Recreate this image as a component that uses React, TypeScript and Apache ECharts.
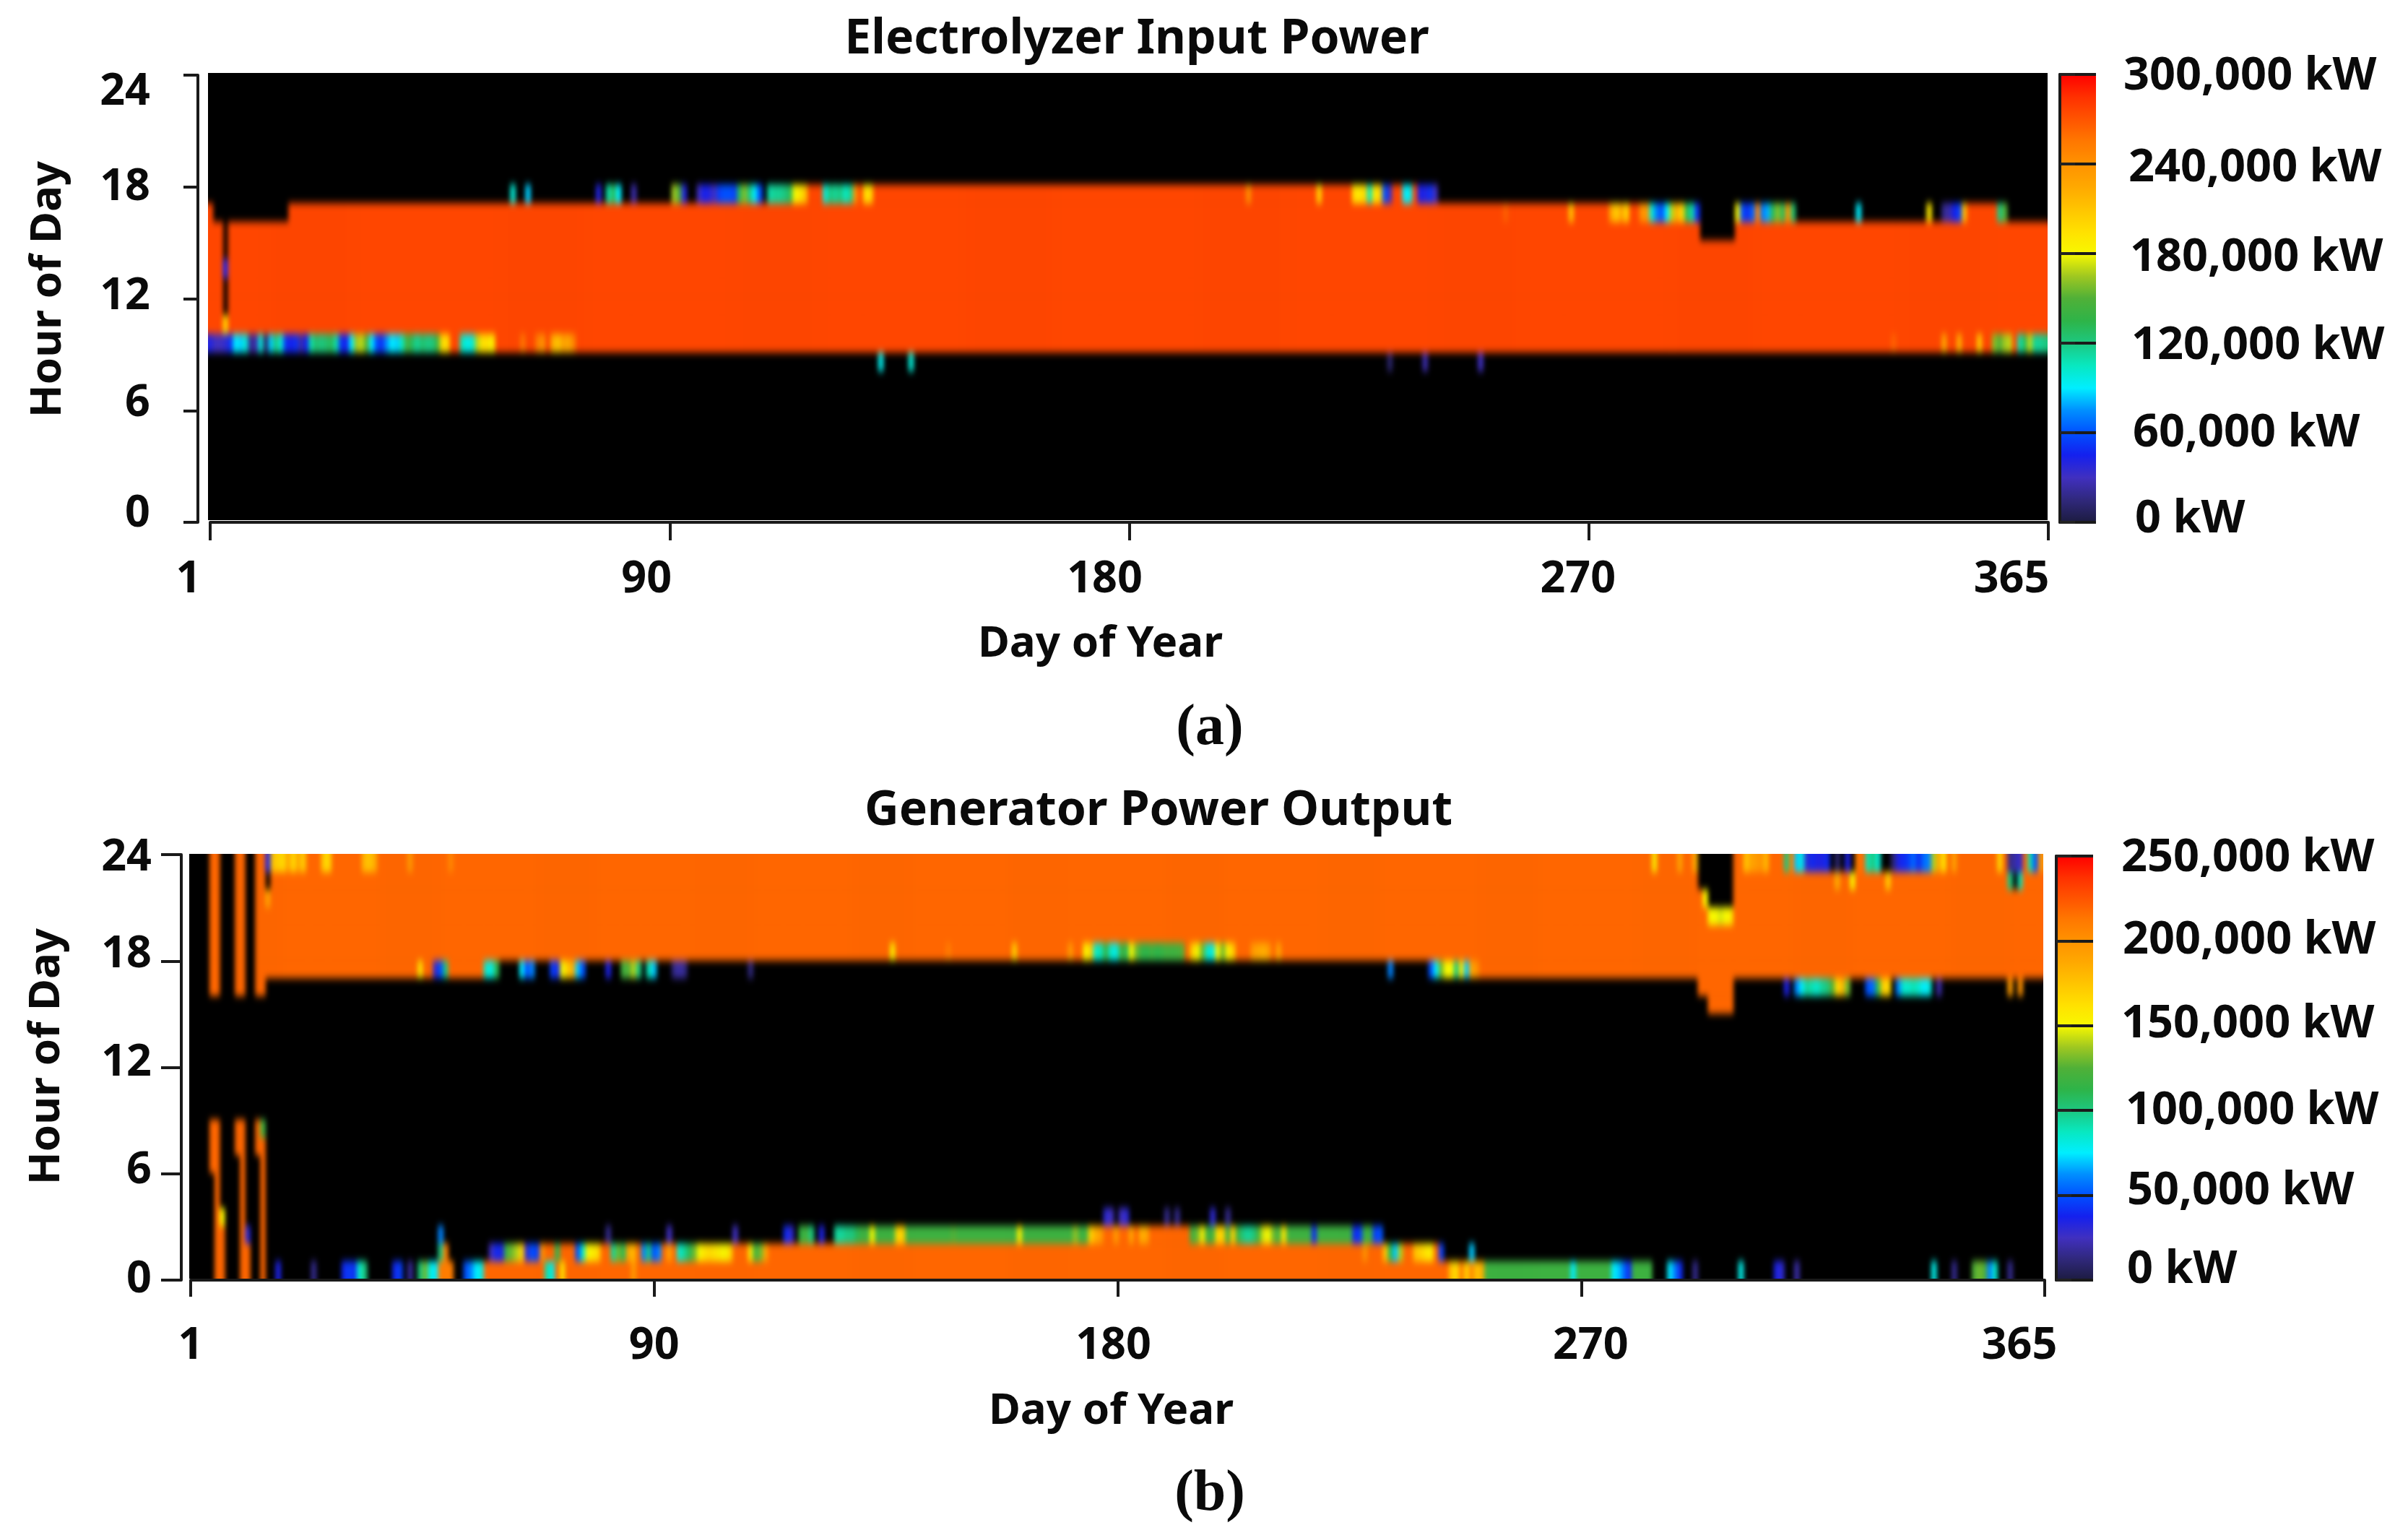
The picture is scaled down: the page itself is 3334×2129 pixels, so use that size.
import React, { useEffect, useRef } from "react";
import * as echarts from "echarts";

type Block = [number, number, number, number, number];
type Speck = [number, number];

const DAY_TICKS = ["1", "90", "180", "270", "365"];
const ELEC_FULL = 276000;
const GEN_FULL = 218750;
const GEN_GREEN = 118000;

const COLOR_SCALE = [
  "#1c1c40", "#30287c", "#4030c0", "#1420ee", "#0050ff", "#0090ff", "#00eeff",
  "#08e8c0", "#1cc880", "#2eb448", "#50b038", "#a0c820", "#f8f800", "#ffe000",
  "#ffc400", "#ffa800", "#ff9200", "#ff7800", "#ff5400", "#ff3000", "#ff0000",
];

// Blocks: first day, last day, first hour, end hour, kW
const elecBlocks: Block[] = [
  [1, 1, 9, 17, ELEC_FULL], [2, 16, 9, 16, ELEC_FULL], [17, 119, 9, 17, ELEC_FULL],
  [120, 244, 9, 18, ELEC_FULL], [245, 296, 9, 17, ELEC_FULL], [297, 303, 9, 15, ELEC_FULL],
  [304, 315, 9, 17, ELEC_FULL], [316, 365, 9, 16, ELEC_FULL], [350, 355, 16, 17, ELEC_FULL],
  [4, 4, 11, 16, 0],
];

// Speckles: day, thousand kW
const elecRow8: Speck[] = [[134, 95], [140, 100], [235, 10], [242, 25], [253, 30]];
const elecRow9: Speck[] = [
  [1, 40], [2, 30], [3, 30], [4, 35], [5, 50], [6, 90], [7, 85], [8, 100], [9, 20], [10, 25], [11, 100], [12, 10],
  [13, 85], [14, 120], [15, 100], [16, 50], [17, 45], [18, 50], [19, 25], [20, 45], [21, 110], [22, 125], [23, 120],
  [24, 125], [25, 130], [26, 110], [27, 50], [28, 45], [29, 90], [30, 165], [31, 170], [32, 150], [33, 90], [34, 60],
  [35, 50], [36, 75], [37, 90], [38, 85], [39, 105], [40, 145], [41, 130], [42, 115], [43, 125], [44, 120], [45, 120],
  [46, 140], [47, 200], [48, 195], [51, 105], [52, 95], [53, 100], [54, 170], [55, 195], [56, 195], [57, 185],
  [63, 255], [66, 250], [67, 240], [69, 220], [70, 210], [71, 230], [72, 225], [73, 245],
  [335, 264], [345, 225], [348, 220], [352, 205], [355, 160], [356, 150], [357, 165], [358, 170], [360, 110],
  [361, 130], [362, 170], [363, 115], [364, 115], [365, 120],
];
const elecRow10: Speck[] = [[4, 200]];
const elecRow13: Speck[] = [[4, 45]];
const elecRow16: Speck[] = [
  [258, 265], [271, 210], [279, 225], [280, 205], [281, 230], [282, 200], [285, 240], [286, 235], [287, 100], [288, 70],
  [289, 60], [290, 90], [291, 170], [292, 220], [293, 200], [294, 130], [295, 110], [296, 50], [304, 180], [305, 60],
  [306, 50], [307, 65], [308, 250], [309, 70], [310, 80], [311, 130], [312, 160], [313, 130], [314, 240], [315, 125],
  [328, 90], [342, 190], [345, 20], [346, 25], [347, 45], [348, 55], [349, 210], [356, 120], [357, 150],
];
const elecRow17: Speck[] = [
  [61, 100], [64, 85], [78, 40], [80, 110], [81, 130], [82, 90], [85, 25], [93, 165], [94, 150], [95, 40], [98, 30],
  [99, 45], [100, 40], [101, 30], [102, 55], [103, 60], [104, 60], [105, 55], [106, 130], [107, 160], [108, 120],
  [109, 90], [110, 60], [112, 110], [113, 115], [114, 115], [115, 120], [116, 130], [117, 180], [118, 190], [119, 210],
  [123, 100], [124, 120], [125, 115], [126, 120], [127, 105], [128, 115], [129, 240], [131, 195], [132, 200],
  [207, 240], [221, 200], [228, 195], [229, 190], [230, 200], [231, 105], [232, 190], [233, 200], [234, 60], [235, 30],
  [238, 90], [239, 95], [241, 45], [242, 40], [243, 50], [244, 30],
];

const genBlocks: Block[] = [
  [5, 6, 16, 24, GEN_FULL], [10, 11, 16, 24, GEN_FULL], [14, 15, 16, 24, GEN_FULL], [16, 61, 17, 24, GEN_FULL],
  [62, 254, 18, 24, GEN_FULL], [255, 365, 17, 24, GEN_FULL], [16, 16, 22, 24, 0], [298, 299, 22, 24, 0],
  [300, 304, 21, 24, 0], [298, 304, 16, 17, GEN_FULL], [300, 304, 15, 16, GEN_FULL], [5, 6, 6, 9, GEN_FULL],
  [6, 6, 3, 6, GEN_FULL], [6, 7, 0, 3, GEN_FULL], [10, 11, 7, 9, GEN_FULL], [11, 11, 2, 7, GEN_FULL],
  [11, 12, 0, 2, GEN_FULL], [14, 15, 7, 9, GEN_FULL], [15, 15, 0, 7, GEN_FULL], [59, 249, 0, 1, GEN_FULL],
  [60, 246, 1, 2, GEN_FULL], [128, 235, 2, 3, GEN_GREEN], [181, 197, 2, 3, GEN_FULL], [256, 288, 0, 1, GEN_GREEN],
];
const genRow0: Speck[] = [
  [18, 35], [25, 15], [31, 40], [32, 45], [33, 40], [34, 85], [35, 100], [41, 40], [42, 45], [44, 18], [46, 100],
  [47, 130], [48, 80], [49, 75], [50, 210], [51, 210], [52, 210], [55, 50], [56, 60], [57, 75], [58, 80], [71, 90],
  [72, 80], [74, 160], [88, 195], [249, 175], [250, 165], [251, 210], [252, 170], [253, 205], [254, 175], [255, 185],
  [273, 75], [281, 75], [282, 70], [283, 55], [284, 40], [292, 75], [293, 60], [294, 40], [297, 15], [306, 80],
  [313, 35], [314, 30], [317, 20], [344, 80], [348, 15], [352, 125], [353, 130], [354, 125], [355, 60], [356, 85], [359, 15],
];
const genRow1: Speck[] = [
  [50, 100], [51, 210], [60, 25], [61, 40], [62, 35], [63, 120], [64, 130], [65, 140], [66, 170], [67, 30], [68, 50],
  [69, 45], [70, 200], [73, 110], [77, 50], [78, 85], [79, 150], [80, 155], [81, 165], [84, 95], [85, 130], [86, 110],
  [87, 190], [88, 180], [90, 60], [91, 100], [92, 50], [93, 60], [95, 190], [97, 85], [98, 95], [99, 110], [100, 130],
  [101, 150], [102, 160], [103, 165], [104, 160], [105, 155], [106, 150], [107, 165], [111, 160], [112, 120], [113, 130],
  [114, 190], [232, 200], [236, 175], [237, 110], [238, 70], [239, 140], [242, 175], [243, 170], [244, 160], [245, 155],
  [247, 45], [253, 70],
];
const genRow2: Speck[] = [
  [12, 30], [50, 60], [83, 15], [95, 25], [108, 25], [118, 40], [119, 30], [121, 115], [122, 120], [123, 100], [125, 35],
  [128, 95], [129, 95], [130, 100], [131, 100], [132, 110], [135, 150], [140, 165], [141, 170], [151, 125], [164, 155],
  [175, 135], [178, 170], [179, 185], [180, 195], [183, 195], [186, 190], [188, 185], [189, 190], [199, 130], [200, 155],
  [203, 165], [204, 170], [206, 170], [208, 100], [209, 95], [210, 100], [211, 120], [212, 145], [213, 150], [214, 130],
  [216, 160], [222, 40], [230, 40], [231, 45], [234, 45], [235, 50],
];
const genRow3: Speck[] = [[7, 150], [181, 30], [182, 25], [184, 25], [185, 30], [193, 15], [195, 15], [202, 30], [205, 15]];
const genRow8: Speck[] = [[15, 120]];
const genRow16: Speck[] = [
  [315, 35], [317, 60], [318, 75], [319, 95], [320, 90], [321, 85], [322, 95], [323, 100], [324, 125], [325, 165],
  [326, 180], [327, 130], [331, 50], [332, 55], [333, 110], [334, 170], [335, 165], [337, 60], [338, 85], [339, 85],
  [340, 90], [341, 85], [342, 75], [343, 80], [345, 20], [359, 195], [361, 200],
];
const genRow17: Speck[] = [
  [46, 160], [49, 30], [50, 50], [51, 100], [59, 85], [60, 80], [61, 110], [66, 75], [67, 50], [68, 60], [72, 45],
  [73, 40], [74, 150], [75, 170], [76, 185], [77, 70], [78, 50], [83, 35], [86, 120], [87, 125], [88, 140], [89, 100],
  [91, 90], [92, 70], [96, 15], [97, 20], [98, 15], [111, 12], [237, 60], [245, 50], [246, 75], [247, 130], [248, 150],
  [249, 150], [250, 100], [251, 160], [252, 70], [253, 190], [254, 200],
];
const genRow18: Speck[] = [
  [139, 155], [150, 210], [163, 170], [174, 195], [177, 150], [178, 170], [179, 85], [180, 90], [181, 115], [182, 85],
  [183, 80], [184, 120], [185, 110], [186, 150], [187, 130], [188, 115], [189, 112], [190, 118], [191, 112], [192, 115],
  [193, 120], [194, 118], [195, 120], [196, 125], [198, 170], [199, 150], [200, 130], [201, 85], [202, 80], [203, 150],
  [204, 130], [205, 155], [206, 170], [210, 195], [211, 190], [212, 185], [213, 195], [215, 190],
];
const genRow20: Speck[] = [[300, 150], [301, 150], [302, 145], [303, 150], [304, 155]];
const genRow21: Speck[] = [[16, 190], [299, 150]];
const genRow22: Speck[] = [[325, 185], [328, 150], [335, 170], [359, 100], [360, 0], [361, 90]];
const genRow23: Speck[] = [
  [16, 35], [17, 175], [18, 170], [19, 165], [20, 190], [21, 165], [22, 190], [23, 170], [27, 170], [28, 165], [35, 180],
  [36, 175], [37, 185], [44, 195], [52, 205], [289, 155], [294, 190], [297, 185], [307, 175], [308, 190], [309, 195],
  [310, 200], [311, 180], [315, 100], [316, 210], [317, 70], [318, 80], [319, 30], [320, 40], [321, 35], [322, 35],
  [323, 40], [324, 0], [325, 10], [326, 0], [327, 35], [328, 0], [329, 210], [331, 90], [332, 100], [333, 85], [334, 0],
  [335, 0], [336, 10], [337, 35], [338, 40], [339, 45], [340, 55], [341, 40], [342, 55], [343, 60], [344, 140], [345, 190],
  [346, 160], [348, 190], [357, 165], [359, 15], [360, 20], [361, 30], [363, 90], [364, 50], [365, 200],
];

const elecSpeckles: [number, Speck[]][] = [[8, elecRow8], [9, elecRow9], [10, elecRow10], [13, elecRow13], [16, elecRow16], [17, elecRow17]];
const genSpeckles: [number, Speck[]][] = [
  [0, genRow0], [1, genRow1], [2, genRow2], [3, genRow3], [8, genRow8], [16, genRow16], [17, genRow17],
  [18, genRow18], [20, genRow20], [21, genRow21], [22, genRow22], [23, genRow23],
];

const PAD_X = 3;
const PAD_Y = 1;

function buildCells(blocks: Block[], speckles: [number, Speck[]][]) {
  const g: number[][] = Array.from({ length: 365 }, () => new Array(24).fill(0));
  blocks.forEach(([d1, d2, h1, h2, v]) => {
    for (let d = d1; d <= d2; d++) for (let h = h1; h < h2; h++) g[d - 1][h] = v;
  });
  speckles.forEach(([h, list]) => list.forEach(([d, mw]) => { g[d - 1][h] = mw * 1000; }));
  const out: number[][] = [];
  for (let x = -PAD_X; x < 365 + PAD_X; x++) {
    for (let y = -PAD_Y; y < 24 + PAD_Y; y++) {
      const v = g[Math.min(364, Math.max(0, x))][Math.min(23, Math.max(0, y))];
      if (v > 0) out.push([x + PAD_X, y + PAD_Y, v]);
    }
  }
  return out;
}

const FONT = "'Noto Sans', 'Open Sans', sans-serif";
const PLOTS = [
  { left: 288, top: 101, width: 2547, height: 619, max: 300000, blocks: elecBlocks, speckles: elecSpeckles },
  { left: 262, top: 1182, width: 2567, height: 588, max: 250000, blocks: genBlocks, speckles: genSpeckles },
];

function heatOption(i: number) {
  const p = PLOTS[i];
  return {
    animation: false,
    backgroundColor: "#000",
    grid: { left: 0, right: 0, top: 0, bottom: 0 },
    xAxis: { type: "category", show: false, data: Array.from({ length: 365 + 2 * PAD_X }, (_, k) => k) },
    yAxis: { type: "category", show: false, data: Array.from({ length: 24 + 2 * PAD_Y }, (_, k) => k) },
    visualMap: { show: false, min: 0, max: p.max, dimension: 2, inRange: { color: COLOR_SCALE } },
    series: [{ type: "heatmap", silent: true, progressive: 0, data: buildCells(p.blocks, p.speckles) }],
  };
}

const richFor = (shifts: { x?: number; y?: number }[], size: number) => {
  const rich: any = {};
  shifts.forEach((s, i) => {
    const x = s.x || 0;
    const y = s.y || 0;
    rich["s" + i] = {
      fontFamily: FONT, fontWeight: 700, fontSize: size, color: "#0a0a0a",
      padding: [y > 0 ? 2 * y : 0, x < 0 ? -2 * x : 0, y < 0 ? -2 * y : 0, x > 0 ? 2 * x : 0],
    };
  });
  return rich;
};

const AXIS_LINE = { lineStyle: { color: "#1a1a1a", width: 4 } };

function frontOption() {
  const panels = [
    {
      axis: { left: 291, top: 104, width: 2545, height: 619 }, yOff: 17, xOff: 17, yTick: 20, xTick: 25,
      yMargin: 66, xMargin: 26, yNameGap: 183, xNameGap: 116, yNamePad: 26, xNamePad: 80,
      xShift: [{ x: -30 }, { x: -32 }, { x: -34 }, { x: -15 }, { x: -51 }],
      yShift: [{ y: -18 }, { y: -16 }, { y: -9 }, { y: -5 }, { y: 17 }],
      bar: { left: 2852, top: 103, width: 50, height: 620 }, max: 300000, step: 60000, barMargin: 38,
      barShift: [{ x: 8, y: -11 }, { x: 6.5, y: -6 }, { x: 5.5, y: -3 }, { x: 4.5, y: -1 }, { x: 3.5, y: -1 }, { x: 0, y: -4 }],
    },
    {
      axis: { left: 264, top: 1183, width: 2567, height: 589 }, yOff: 13, xOff: 17, yTick: 28, xTick: 23,
      yMargin: 41, xMargin: 38, yNameGap: 162, xNameGap: 129, yNamePad: 30, xNamePad: 18,
      xShift: [{ x: 0 }, { x: 0 }, { x: -6 }, { x: 13 }, { x: -35 }],
      yShift: [{ y: -7 }, { y: -10 }, { y: -12 }, { y: -15 }, { y: -2 }],
      bar: { left: 2847, top: 1185, width: 51, height: 587 }, max: 250000, step: 50000, barMargin: 39,
      barShift: [{ x: 4, y: -21 }, { x: 4, y: -12 }, { x: 3, y: -6 }, { x: 0, y: -8 }, { x: 1, y: -7 }, { x: 0, y: -4 }],
    },
  ];
  const grid: any[] = [];
  const xAxis: any[] = [];
  const yAxis: any[] = [];
  const visualMap: any[] = [];
  panels.forEach((p) => {
    const gi = grid.length;
    grid.push({ ...p.axis });
    xAxis.push({
      gridIndex: gi, type: "category", boundaryGap: false, data: DAY_TICKS, position: "bottom", offset: p.xOff,
      name: "Day of Year", nameLocation: "middle", nameGap: p.xNameGap,
      nameTextStyle: { fontFamily: FONT, fontWeight: 700, fontSize: 60, color: "#0a0a0a", padding: [0, p.xNamePad, 0, 0] },
      axisLine: AXIS_LINE, axisTick: { show: true, length: p.xTick, lineStyle: { color: "#1a1a1a", width: 4 } },
      axisLabel: {
        interval: 0, margin: p.xMargin, rich: richFor(p.xShift, 61),
        formatter: (v: string, i: number) => `{s${i}|${v}}`,
      },
      splitLine: { show: false },
    });
    yAxis.push({
      gridIndex: gi, type: "value", min: 0, max: 24, interval: 6, position: "left", offset: p.yOff,
      name: "Hour of Day", nameLocation: "middle", nameGap: p.yNameGap,
      nameTextStyle: { fontFamily: FONT, fontWeight: 700, fontSize: 60, color: "#0a0a0a", padding: [0, 0, 0, p.yNamePad] },
      axisLine: { show: true, ...AXIS_LINE }, axisTick: { show: true, length: p.yTick, lineStyle: { color: "#1a1a1a", width: 4 } },
      axisLabel: {
        margin: p.yMargin, rich: richFor(p.yShift, 61),
        formatter: (v: number, i: number) => `{s${i}|${v}}`,
      },
      splitLine: { show: false },
    });
    const bi = grid.length;
    grid.push({ ...p.bar, z: 10 });
    xAxis.push({ gridIndex: bi, type: "value", min: 0, max: 1, show: false });
    yAxis.push({
      gridIndex: bi, type: "value", min: 0, max: p.max, interval: p.step, position: "right", z: 10,
      axisLine: { show: true, ...AXIS_LINE }, axisTick: { show: true, length: 21, lineStyle: { color: "#222", width: 4 } },
      axisLabel: {
        margin: p.barMargin, rich: richFor(p.barShift, 63),
        formatter: (v: number, i: number) => `{s${i}|${v.toLocaleString("en-US")} kW}`,
      },
      splitLine: { show: true, lineStyle: { color: "#1a1a1a", width: 4 } },
    });
    yAxis.push({
      gridIndex: bi, type: "value", min: 0, max: p.max, interval: p.step, position: "left", z: 10,
      axisLine: { show: true, ...AXIS_LINE }, axisTick: { show: false }, axisLabel: { show: false }, splitLine: { show: false },
    });
    visualMap.push({
      type: "continuous", show: true, min: 0, max: p.max, calculable: false, seriesIndex: [], padding: 0, text: null,
      left: p.bar.left, top: p.bar.top, itemWidth: p.bar.width, itemHeight: p.bar.height, z: 1,
      inRange: { color: COLOR_SCALE }, textStyle: { color: "transparent" },
    });
  });
  const capt = (letter: string, left: number, top: number) => ({
    text: `{n|(}{b|${letter}}{n|)}`, left, top, textAlign: "center",
    textStyle: {
      rich: {
        n: { fontFamily: "'Liberation Serif', serif", fontSize: 80, color: "#0a0a0a" },
        b: { fontFamily: "'Liberation Serif', serif", fontWeight: "bold", fontSize: 80, color: "#0a0a0a" },
      },
    },
  });
  const head = (text: string, left: number, top: number) => ({
    text, left, top, textAlign: "center",
    textStyle: { fontFamily: FONT, fontWeight: 700, fontSize: 66, color: "#0a0a0a" },
  });
  return {
    animation: false,
    backgroundColor: "transparent",
    title: [
      head("Electrolyzer Input Power", 1569, 10),
      head("Generator Power Output", 1599, 1078),
      capt("a", 1670, 958),
      capt("b", 1670, 2018),
    ],
    grid, xAxis, yAxis, visualMap,
    series: [],
  };
}

export default function App() {
  const frontRef = useRef<HTMLDivElement>(null);
  const backA = useRef<HTMLDivElement>(null);
  const backB = useRef<HTMLDivElement>(null);
  useEffect(() => {
    document.body.style.margin = "0";
    const charts = [backA, backB].map((r, i) => {
      const c = echarts.init(r.current!, undefined, { renderer: "svg" });
      c.setOption(heatOption(i) as any);
      return c;
    });
    const front = echarts.init(frontRef.current!, undefined, { renderer: "svg" });
    front.setOption(frontOption() as any);
    return () => {
      charts.forEach((c) => c.dispose());
      front.dispose();
    };
  }, []);
  return (
    <div style={{ position: "relative", width: 3334, height: 2129, background: "#fff", overflow: "hidden" }}>
      <svg width="0" height="0" style={{ position: "absolute" }}>
        <filter id="cellBlur" x="-2%" y="-5%" width="104%" height="110%" colorInterpolationFilters="sRGB">
          <feGaussianBlur stdDeviation="3 5.5" />
        </filter>
      </svg>
      {PLOTS.map((p, i) => {
        const cw = p.width / 365;
        const ch = p.height / 24;
        return (
          <div
            key={i}
            style={{ position: "absolute", left: p.left, top: p.top, width: p.width, height: p.height, overflow: "hidden" }}
          >
            <div
              ref={i === 0 ? backA : backB}
              style={{
                position: "absolute", left: -PAD_X * cw, top: -PAD_Y * ch,
                width: cw * (365 + 2 * PAD_X), height: ch * (24 + 2 * PAD_Y), filter: "url(#cellBlur)",
              }}
            />
          </div>
        );
      })}
      <div ref={frontRef} style={{ position: "absolute", left: 0, top: 0, width: 3334, height: 2129 }} />
    </div>
  );
}
